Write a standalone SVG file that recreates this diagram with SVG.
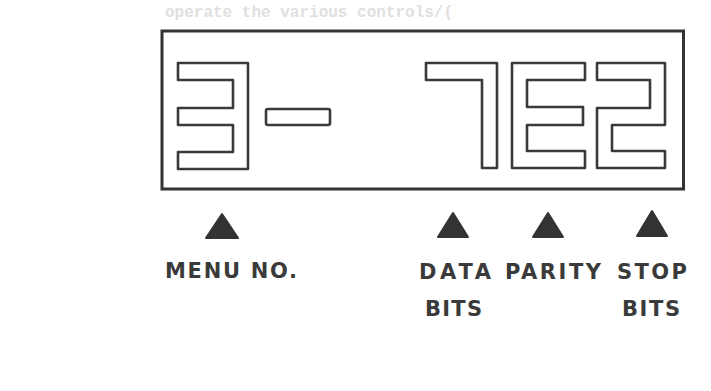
<svg xmlns="http://www.w3.org/2000/svg" width="711" height="391" viewBox="0 0 711 391">
<style>
.seg{fill:#ffffff;stroke:#3a3a3a;stroke-width:2.6;stroke-linejoin:round}
.frame{fill:none;stroke:#333333;stroke-width:3}
.tri{fill:#333333;stroke:#333333;stroke-width:2;stroke-linejoin:round}
.lbl{font-family:"DejaVu Sans","Liberation Sans",Arial,sans-serif;font-weight:bold;font-size:21px;fill:#3a3a3a}
.ghost{font-family:"Liberation Mono","Courier New",monospace;font-weight:bold;font-size:16px;fill:#e0e0e0}
</style>
<rect width="711" height="391" fill="#ffffff"/>
<text class="ghost" x="165" y="17">operate the various controls/(</text>
<g id="display">
<rect class="frame" x="162" y="31" width="521.5" height="158"/>
</g>
<g id="digit-3">
<path class="seg" d="M178,63 H248 V169 H178 V152 H233 V125 H178 V108 H233 V80 H178 Z"/>
</g>
<g id="dash">
<rect class="seg" x="266" y="109" width="64" height="16" rx="2"/>
</g>
<g id="digit-7">
<path class="seg" d="M426,63 H497 V168 H482 V80 H426 Z"/>
</g>
<g id="digit-E">
<path class="seg" d="M512,63 H585 V80 H527 V107 H583 V125 H527 V151 H585 V168 H512 Z"/>
</g>
<g id="digit-2">
<path class="seg" d="M597,63 H665 V125 H612 V151 H665 V168 H597 V108 H650 V80 H597 Z"/>
</g>
<g id="connectors">
<polygon class="tri" points="222,214 238,238 206,238"/>
<polygon class="tri" points="453,213 468,237 438,237"/>
<polygon class="tri" points="548,213 563,237 533,237"/>
<polygon class="tri" points="652,211 667,236 637,236"/>
</g>
<g id="menu-no">
<text class="lbl" x="165" y="278" textLength="132" lengthAdjust="spacing">MENU NO.</text>
</g>
<g id="data-bits">
<text class="lbl" x="419" y="279" textLength="72" lengthAdjust="spacing">DATA</text>
<text class="lbl" x="425" y="316" textLength="57" lengthAdjust="spacing">BITS</text>
</g>
<g id="parity">
<text class="lbl" x="505" y="279" textLength="96" lengthAdjust="spacing">PARITY</text>
</g>
<g id="stop-bits">
<text class="lbl" x="617" y="279" textLength="70" lengthAdjust="spacing">STOP</text>
<text class="lbl" x="622" y="316" textLength="58" lengthAdjust="spacing">BITS</text>
</g>
</svg>
